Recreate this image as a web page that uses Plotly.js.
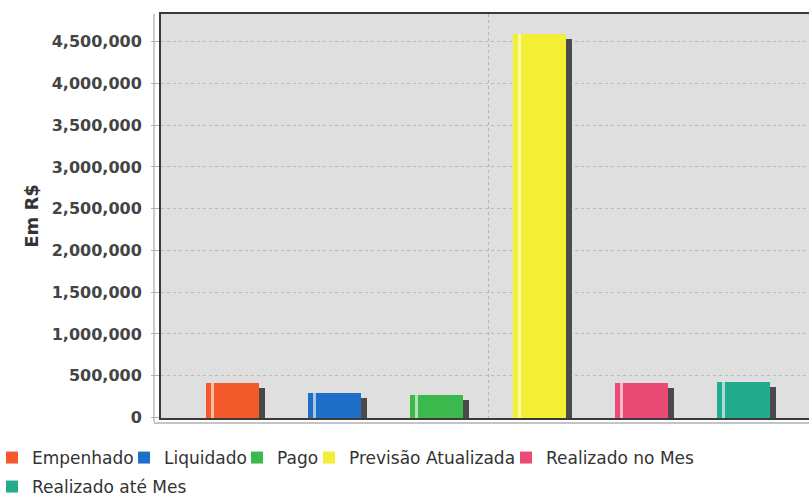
<!DOCTYPE html>
<html>
<head>
<meta charset="utf-8">
<script src="https://cdn.plot.ly/plotly-3.0.1.min.js"></script>
<style>
html, body { margin: 0; padding: 0; background: #ffffff; overflow: hidden; width: 809px; height: 496px; }
#chart { width: 822px; height: 496px; }
</style>
</head>
<body>
<div id="chart"></div>
<script>
// ---- data ----
const categories = ['Empenhado', 'Liquidado', 'Pago', 'Previsão Atualizada', 'Realizado no Mes', 'Realizado até Mes'];
const values = [417000, 290000, 266000, 4598000, 410000, 422000];
const yTickVals = [0, 500000, 1000000, 1500000, 2000000, 2500000, 3000000, 3500000, 4000000, 4500000];
const yTickText = ['0', '500,000', '1,000,000', '1,500,000', '2,000,000', '2,500,000', '3,000,000', '3,500,000', '4,000,000', '4,500,000'];
const yTitle = 'Em R$';

// ---- styles ----
const colors = ['#f2592b', '#1f6ec8', '#3cb94c', '#f4ef34', '#ea4b74', '#24aa8c'];
const stripeColor = 'rgba(255,255,255,0.6)';
const shadowColor = '#4a4a4a';

const W = 822, H = 496;
const mL = 161, mT = 14, mB = 78;
const plotW = 654, plotH = H - mT - mB;   // 404
const xRange = [-0.7, 5.7];
const yRange = [-6000, 4832000];
const pxPerX = plotW / (xRange[1] - xRange[0]);
const pxPerY = plotH / (yRange[1] - yRange[0]);

const barW = 53 / pxPerX;
const shadowDX = 6 / pxPerX;
const shadowDY = 5 / pxPerY;
const stripeOff = 5 / pxPerX;
const stripeW = 3 / pxPerX;

// legend entry placement (pixels: text start x, row centre y)
const legendTextX = [32, 164, 277, 349, 546, 32];
const legendRowY = [458, 458, 458, 458, 458, 487];
const legendTextOffset = 40;

const xs = categories.map((c, i) => i);
const legendIds = categories.map((c, i) => i === 0 ? 'legend' : 'legend' + (i + 1));
const traces = [];

// shadows
categories.forEach((c, i) => {
  traces.push({
    type: 'bar', x: [xs[i]], y: [Math.max(values[i] - shadowDY, 0)],
    width: barW, offset: -barW / 2 + shadowDX,
    marker: { color: shadowColor, line: { width: 0 } },
    showlegend: false, hoverinfo: 'skip'
  });
});
// main bars
categories.forEach((c, i) => {
  traces.push({
    type: 'bar', name: c, x: [xs[i]], y: [values[i]],
    width: barW, offset: -barW / 2,
    marker: { color: colors[i], line: { width: 0 } },
    legend: legendIds[i], showlegend: true,
    hoverinfo: 'skip'
  });
});
// highlight stripes
categories.forEach((c, i) => {
  traces.push({
    type: 'bar', x: [xs[i]], y: [values[i]],
    width: stripeW, offset: -barW / 2 + stripeOff,
    marker: { color: stripeColor, line: { width: 0 } },
    showlegend: false, hoverinfo: 'skip'
  });
});

const legendFont = { family: 'DejaVu Sans', size: 17, color: '#333333' };
const plotBottomPx = mT + plotH;

const layout = {
  width: W, height: H,
  margin: { l: mL, r: W - mL - plotW, t: mT, b: mB, autoexpand: false },
  paper_bgcolor: '#ffffff',
  plot_bgcolor: '#dfdfdf',
  barmode: 'overlay',
  bargap: 0,
  font: { family: 'DejaVu Sans', color: '#333333' },
  xaxis: {
    range: xRange, type: 'linear',
    tickvals: [2.5], showticklabels: false, ticks: '',
    showgrid: true, gridcolor: '#b4b4b4', griddash: 'dot', gridwidth: 1,
    zeroline: false,
    showline: true, mirror: true, linecolor: '#3a3a3a', linewidth: 2,
    fixedrange: true
  },
  yaxis: {
    range: yRange, tickvals: yTickVals, ticktext: yTickText,
    tickfont: { family: 'DejaVu Sans', size: 16, color: '#444444', weight: 'bold' },
    ticks: 'outside', ticklen: 8, tickcolor: '#b0b0b0', tickwidth: 1,
    ticklabelstandoff: 6,
    showgrid: true, gridcolor: '#b8b8b8', griddash: 'dot', gridwidth: 1,
    zeroline: false,
    showline: true, mirror: true, linecolor: '#3a3a3a', linewidth: 2,
    automargin: false,
    title: { text: yTitle, font: { family: 'DejaVu Sans', size: 18, color: '#333333', weight: 'bold' }, standoff: 8 },
    fixedrange: true
  },
  shapes: [
    { type: 'line', xref: 'paper', yref: 'paper', x0: -7 / plotW, x1: -7 / plotW, y0: -4 / plotH, y1: 1,
      line: { color: '#bdbdbd', width: 1.5 }, layer: 'below' },
    { type: 'line', xref: 'paper', yref: 'paper', x0: -7 / plotW, x1: 1, y0: -5 / plotH, y1: -5 / plotH,
      line: { color: '#c4c4c4', width: 2 }, layer: 'below' }
  ],
  showlegend: true
};

legendIds.forEach((id, i) => {
  layout[id] = {
    orientation: 'h',
    x: (legendTextX[i] - legendTextOffset - mL) / plotW, xanchor: 'left',
    y: (plotBottomPx - legendRowY[i]) / plotH, yanchor: 'middle',
    font: legendFont, bgcolor: 'rgba(0,0,0,0)', borderwidth: 0
  };
});

Plotly.newPlot('chart', traces, layout, { displayModeBar: false, staticPlot: true });
</script>
</body>
</html>
